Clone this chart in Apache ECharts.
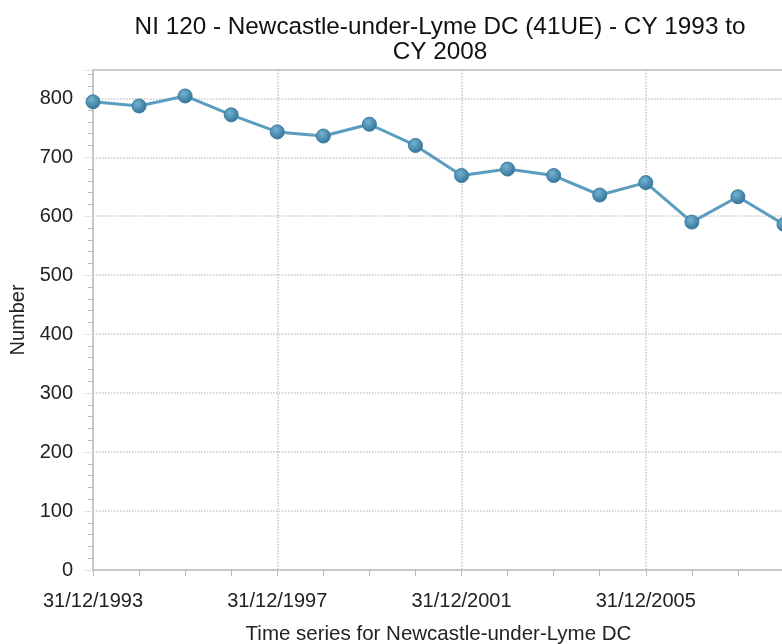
<!DOCTYPE html>
<html>
<head>
<meta charset="utf-8">
<script src="https://cdn.jsdelivr.net/npm/echarts@6/dist/echarts.min.js"></script>
<style>
  html, body { margin: 0; padding: 0; background: #fff; }
  #main { width: 782px; height: 644px; }
</style>
</head>
<body>
<div id="main"></div>
<script>
  // years 1993 - 2008
  const years = ['31/12/1993', '31/12/1994', '31/12/1995', '31/12/1996', '31/12/1997', '31/12/1998',
    '31/12/1999', '31/12/2000', '31/12/2001', '31/12/2002', '31/12/2003', '31/12/2004',
    '31/12/2005', '31/12/2006', '31/12/2007', '31/12/2008']
  const values = [794, 787, 804, 772, 743, 736, 756, 720, 669, 680, 669, 636, 657, 590, 633, 586]

  const font = 'Liberation Sans, Arial, sans-serif'
  const gridColor = '#c8c8c8'

  const chartDom = document.getElementById('main')
  const myChart = echarts.init(chartDom)
  const option = {
    animation: false,
    title: {
      text: 'NI 120 - Newcastle-under-Lyme DC (41UE) - CY 1993 to\nCY 2008',
      left: 435,
      top: 10,
      textAlign: 'center',
      textStyle: {
        fontFamily: font,
        fontSize: 24.3,
        fontWeight: 'normal',
        color: '#111',
        lineHeight: 25
      }
    },
    grid: {
      show: true,
      left: 93,
      right: -2,
      top: 70,
      bottom: 74,
      outerBoundsMode: 'none',
      containLabel: false,
      borderColor: '#d0d0d0',
      borderWidth: 2
    },
    xAxis: {
      type: 'category',
      boundaryGap: false,
      data: years,
      name: 'Time series for Newcastle-under-Lyme DC',
      nameLocation: 'middle',
      nameGap: 54,
      nameTextStyle: { fontFamily: font, fontSize: 20.5, color: '#222' },
      axisLine: { lineStyle: { color: '#c8c8c8', width: 2 } },
      axisTick: { show: true, interval: 0, length: 6, lineStyle: { color: '#bbb' } },
      axisLabel: {
        interval: 3,
        margin: 21,
        fontFamily: font,
        fontSize: 20,
        color: '#222'
      },
      splitLine: {
        show: true,
        interval: 3,
        lineStyle: { color: gridColor, type: 'dotted', width: 1.5 }
      }
    },
    yAxis: {
      type: 'value',
      min: 0,
      max: 848,
      interval: 100,
      name: 'Number',
      nameLocation: 'middle',
      nameGap: 59,
      nameTextStyle: { fontFamily: font, fontSize: 20, color: '#222' },
      axisLine: { show: true, lineStyle: { color: '#c8c8c8', width: 2 } },
      axisTick: { show: true, length: 10, lineStyle: { color: '#ccc', type: 'dotted' } },
      minorTick: { show: true, splitNumber: 5, length: 5, lineStyle: { color: '#bbb' } },
      axisLabel: {
        margin: 20,
        showMaxLabel: false,
        fontFamily: font,
        fontSize: 20,
        color: '#222'
      },
      splitLine: {
        show: true,
        lineStyle: { color: gridColor, type: 'dotted', width: 1.5 }
      }
    },
    series: [
      {
        type: 'line',
        data: values,
        symbol: 'circle',
        symbolSize: 14,
        lineStyle: { color: '#5b9dc0', width: 3 },
        itemStyle: {
          color: new echarts.graphic.RadialGradient(0.4, 0.35, 0.7, [
            { offset: 0, color: '#72b2d2' },
            { offset: 1, color: '#2f6f93' }
          ]),
          borderColor: '#3a7a9e',
          borderWidth: 1
        }
      }
    ]
  }
  option && myChart.setOption(option)
</script>
</body>
</html>
